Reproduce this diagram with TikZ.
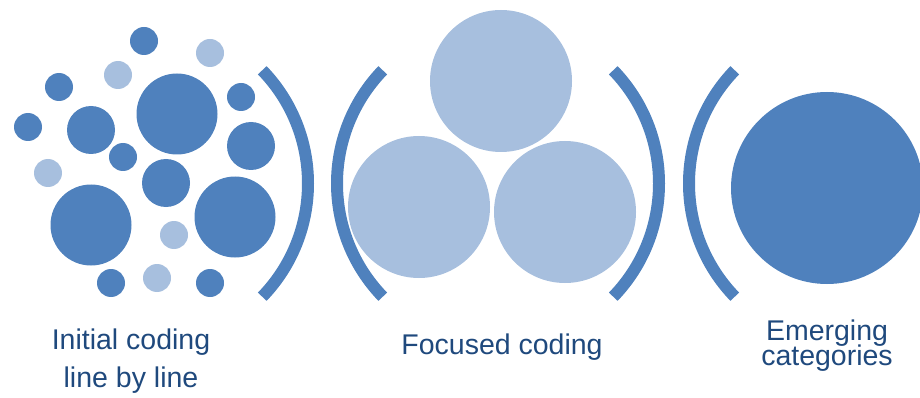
\documentclass[tikz,border=0pt]{standalone}
\usepackage{fontspec}
\setmainfont{Liberation Sans}
\definecolor{darkblue}{HTML}{4F81BD}
\definecolor{lightblue}{HTML}{A7BFDE}
\definecolor{textblue}{HTML}{1F497D}
\begin{document}
\begin{tikzpicture}[x=1pt,y=-1pt,
  blob/.style={circle,inner sep=0pt,minimum size=#1,draw=none},
  dk/.style={blob=#1,fill=darkblue},
  lt/.style={blob=#1,fill=lightblue},
  bracket/.style={draw=darkblue,line width=12pt,line cap=butt},
  caption/.style={text=textblue,inner sep=0pt,align=center,anchor=base}]
\useasboundingbox (0,0) rectangle (920,398);

% many loose codes
\node[dk=28pt] (a1)  at (144,41)  {};
\node[lt=28pt] (a2)  at (210,53)  {};
\node[lt=28pt] (a3)  at (118,75)  {};
\node[dk=28pt] (a4)  at (59,87)   {};
\node[dk=81pt] (a5)  at (177,114) {};
\node[dk=28pt] (a6)  at (241,97)  {};
\node[dk=28pt] (a7)  at (28,127)  {};
\node[dk=48pt] (a8)  at (91,130)  {};
\node[dk=28pt] (a9)  at (123,157) {};
\node[dk=48pt] (a10) at (251,146) {};
\node[lt=28pt] (a11) at (48,173)  {};
\node[dk=48pt] (a12) at (166,183) {};
\node[dk=81pt] (a13) at (91,225)  {};
\node[dk=81pt] (a14) at (235,217) {};
\node[lt=28pt] (a15) at (174,235) {};
\node[dk=28pt] (a16) at (111,283) {};
\node[lt=28pt] (a17) at (157,278) {};
\node[dk=28pt] (a18) at (210,283) {};

% three focused codes
\node[lt=142pt] (f1) at (501,81)  {};
\node[lt=142pt] (f2) at (419,207) {};
\node[lt=142pt] (f3) at (565,212) {};

% one category
\node[dk=192pt] (cat) at (827,188) {};

% brackets
\draw[bracket] ([shift={(145,183.5)}]-44:163) arc (-44:44:163);
\draw[bracket] ([shift={(500,183.5)}]136:163) arc (136:224:163);
\draw[bracket] ([shift={(496,183.5)}]-44:163) arc (-44:44:163);
\draw[bracket] ([shift={(852,183.5)}]136:163) arc (136:224:163);

% captions (base anchor sits on the last line)
\node[caption,font=\fontsize{28.5}{38}\selectfont] (t1) at (131,387) {Initial coding\\line by line};
\node[caption,font=\fontsize{28.5}{38}\selectfont] (t2) at (502,354) {Focused coding};
\node[caption,font=\fontsize{28.5}{28}\selectfont] (t3) at (827,365) {Emerging\\[-3pt]categories};
\end{tikzpicture}
\end{document}
